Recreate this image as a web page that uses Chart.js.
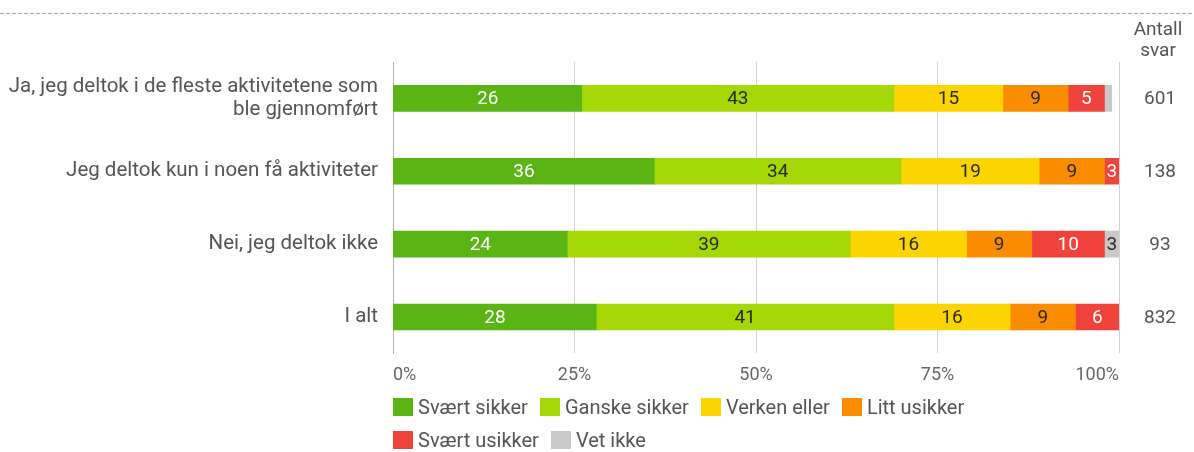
<!DOCTYPE html>
<html>
<head>
<meta charset="utf-8">
<script src="https://cdn.jsdelivr.net/npm/chart.js@4/dist/chart.umd.min.js"></script>
<style>
  html, body { margin: 0; padding: 0; background: #fff; }
  #wrap { position: relative; width: 1194px; height: 452px; font-family: Roboto, "Noto Sans", sans-serif; }
  #chart { position: absolute; left: 0; top: 0; }
  #legend { position: absolute; left: 393px; top: 397px; width: 660px; display: flex; flex-wrap: wrap;
            row-gap: 14px; column-gap: 12px; font-size: 20px; color: #555; }
  #legend .item { display: flex; align-items: center; height: 19px; white-space: nowrap; }
  #legend .sw { width: 20px; height: 18px; margin-right: 5px; }
</style>
</head>
<body>
<div id="wrap">
  <canvas id="chart" width="1194" height="452"></canvas>
  <div id="legend"></div>
</div>
<script>
// Categories (y axis)
const categories = [
  ["Ja, jeg deltok i de fleste aktivitetene som", "ble gjennomført"],
  "Jeg deltok kun i noen få aktiviteter",
  "Nei, jeg deltok ikke",
  "I alt"
];

// Share of answers per category, in percent
const svaertSikker  = [26, 36, 24, 28];
const ganskeSikker  = [43, 34, 39, 41];
const verkenEller   = [15, 19, 16, 16];
const littUsikker   = [9, 9, 9, 9];
const svaertUsikker = [5, 3, 10, 6];
const vetIkke       = [1, 0, 3, 0];

// Number of responses per category
const antallSvar = [601, 138, 93, 832];
const antallHeader = ["Antall", "svar"];

// Percent axis ticks
const xTicks = [0, 25, 50, 75, 100];

const seriesNames  = ["Svært sikker", "Ganske sikker", "Verken eller", "Litt usikker", "Svært usikker", "Vet ikke"];
const seriesValues = [svaertSikker, ganskeSikker, verkenEller, littUsikker, svaertUsikker, vetIkke];
const seriesColors = ["#5ab414", "#a6d808", "#fcd400", "#fa8c00", "#f0433c", "#c9c9c9"];
const valueColors  = ["#ffffff", "#2a2a2a", "#2a2a2a", "#2a2a2a", "#ffffff", "#2a2a2a"];

const FONT = 'Roboto, "Noto Sans", sans-serif';

// Dashed separator line along the top
const topRule = {
  id: 'topRule',
  beforeDraw(chart) {
    const ctx = chart.ctx;
    ctx.save();
    ctx.strokeStyle = '#a8a8a8';
    ctx.lineWidth = 1;
    ctx.setLineDash([4, 2]);
    ctx.beginPath();
    ctx.moveTo(0, 13.5);
    ctx.lineTo(chart.width, 13.5);
    ctx.stroke();
    ctx.restore();
  }
};

// Value labels centred in each visible bar segment
const segmentLabels = {
  id: 'segmentLabels',
  afterDatasetsDraw(chart) {
    const { ctx, chartArea } = chart;
    ctx.save();
    ctx.font = '19px ' + FONT;
    ctx.textAlign = 'center';
    ctx.textBaseline = 'middle';
    chart.data.datasets.forEach((ds, di) => {
      const meta = chart.getDatasetMeta(di);
      meta.data.forEach((bar, i) => {
        const v = ds.data[i];
        if (v < 2) return;
        const l = Math.max(Math.min(bar.x, bar.base), chartArea.left);
        const r = Math.min(Math.max(bar.x, bar.base), chartArea.right);
        ctx.fillStyle = valueColors[di];
        ctx.fillText(String(v), (l + r) / 2, bar.y + 1);
      });
    });
    ctx.restore();
  }
};

// "Antall svar" column to the right of the bars
const countColumn = {
  id: 'countColumn',
  afterDraw(chart) {
    const ctx = chart.ctx;
    const yScale = chart.scales.y;
    ctx.save();
    ctx.font = '19px ' + FONT;
    ctx.fillStyle = '#555';
    ctx.textAlign = 'center';
    ctx.textBaseline = 'middle';
    ctx.fillText(antallHeader[0], 1158, 30);
    ctx.fillText(antallHeader[1], 1158, 51);
    antallSvar.forEach((n, i) => {
      ctx.fillText(String(n), 1160, yScale.getPixelForValue(i) + 1);
    });
    ctx.restore();
  }
};

new Chart(document.getElementById('chart'), {
  type: 'bar',
  data: {
    labels: categories,
    datasets: seriesNames.map((name, i) => ({
      label: name,
      data: seriesValues[i],
      backgroundColor: seriesColors[i],
      borderWidth: 0,
      barThickness: 26,
      clip: 0
    }))
  },
  options: {
    indexAxis: 'y',
    responsive: false,
    animation: false,
    events: [],
    layout: { padding: { top: 62, right: 75, bottom: 55, left: 0 } },
    scales: {
      x: {
        stacked: true,
        min: 0,
        max: 100,
        afterBuildTicks(scale) { scale.ticks = xTicks.map(v => ({ value: v })); },
        ticks: {
          callback: v => v + '%',
          align: 'inner',
          padding: 11,
          maxRotation: 0,
          color: '#666',
          font: { family: FONT, size: 18 }
        },
        grid: { color: '#d2d2d2', lineWidth: 1, drawTicks: false },
        border: { display: false }
      },
      y: {
        stacked: true,
        afterFit(scale) { scale.width = 393; },
        ticks: {
          padding: 15,
          color: '#555',
          font: { family: FONT, size: 20.5, lineHeight: 1.12 }
        },
        grid: { display: false, drawTicks: false },
        border: { display: true, color: '#b4b4b4', width: 1 }
      }
    },
    plugins: {
      legend: { display: false },
      tooltip: { enabled: false },
      title: { display: false }
    }
  },
  plugins: [topRule, segmentLabels, countColumn]
});

// Legend built from the same series names and colours
const legendEl = document.getElementById('legend');
seriesNames.forEach((name, i) => {
  const item = document.createElement('div');
  item.className = 'item';
  const sw = document.createElement('span');
  sw.className = 'sw';
  sw.style.background = seriesColors[i];
  const txt = document.createElement('span');
  txt.textContent = name;
  item.appendChild(sw);
  item.appendChild(txt);
  legendEl.appendChild(item);
});
</script>
</body>
</html>
